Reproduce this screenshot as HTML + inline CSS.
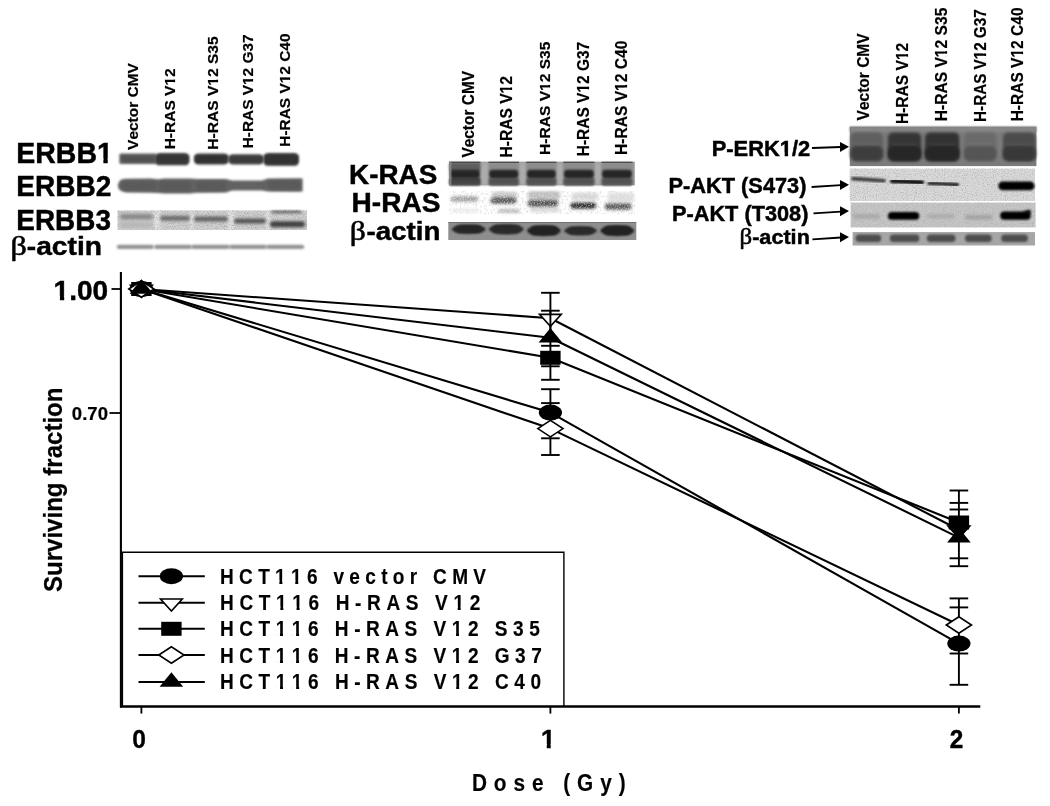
<!DOCTYPE html>
<html><head><meta charset="utf-8"><title>Figure</title>
<style>html,body{margin:0;padding:0;background:#fff;}svg{display:block;will-change:transform;}</style></head>
<body><svg width="1050" height="806" viewBox="0 0 1050 806">
<rect width="1050" height="806" fill="#fff"/>
<defs>
<filter id="b1" x="-20%" y="-80%" width="140%" height="260%"><feGaussianBlur stdDeviation="0.9"/></filter>
<filter id="b2" x="-20%" y="-80%" width="140%" height="260%"><feGaussianBlur stdDeviation="1.4"/></filter>
<filter id="b3" x="-20%" y="-80%" width="140%" height="260%"><feGaussianBlur stdDeviation="2.0"/></filter>
<filter id="sp1" x="0" y="0" width="100%" height="100%">
 <feTurbulence type="fractalNoise" baseFrequency="0.45" numOctaves="2" seed="4"/>
 <feColorMatrix type="matrix" values="0 0 0 0 0  0 0 0 0 0  0 0 0 0 0  3.0 0 0 0 -1.45"/>
 <feGaussianBlur stdDeviation="0.5"/>
</filter>
<filter id="sp2" x="0" y="0" width="100%" height="100%">
 <feTurbulence type="fractalNoise" baseFrequency="0.9" numOctaves="2" seed="9"/>
 <feColorMatrix type="matrix" values="0 0 0 0 0  0 0 0 0 0  0 0 0 0 0  2.0 0 0 0 -0.9"/>
 <feGaussianBlur stdDeviation="0.45"/>
</filter>
<filter id="sp3" x="0" y="0" width="100%" height="100%">
 <feTurbulence type="fractalNoise" baseFrequency="0.7" numOctaves="2" seed="21"/>
 <feColorMatrix type="matrix" values="0 0 0 0 1  0 0 0 0 1  0 0 0 0 1  3.0 0 0 0 -1.4"/>
 <feGaussianBlur stdDeviation="0.4"/>
</filter>
</defs>
<rect x="119.40" y="153.40" width="37.10" height="10.50" rx="1.5" ry="1.5" fill="#5e5e5e" filter="url(#b1)"/>
<rect x="121.40" y="155.90" width="33.10" height="5.50" rx="2" fill="#515151" filter="url(#b1)"/>
<rect x="155.00" y="153.00" width="34.50" height="12.30" rx="5" ry="4" fill="#404040" filter="url(#b1)"/>
<rect x="157.00" y="155.50" width="30.50" height="7.30" rx="2" fill="#343434" filter="url(#b1)"/>
<rect x="193.90" y="153.40" width="34.90" height="11.10" rx="5" ry="4" fill="#3c3c3c" filter="url(#b1)"/>
<rect x="195.90" y="155.90" width="30.90" height="6.10" rx="2" fill="#323232" filter="url(#b1)"/>
<rect x="228.30" y="154.20" width="35.50" height="10.30" rx="5" ry="4" fill="#444444" filter="url(#b1)"/>
<rect x="230.30" y="156.70" width="31.50" height="5.30" rx="2" fill="#3a3a3a" filter="url(#b1)"/>
<rect x="263.40" y="153.00" width="35.60" height="12.80" rx="5" ry="4" fill="#3a3a3a" filter="url(#b1)"/>
<rect x="265.40" y="155.50" width="31.60" height="7.80" rx="2" fill="#303030" filter="url(#b1)"/>
<polygon points="119,182 121,179.6 126,178.7 150,178.6 158,179.2 165,178.4 190,178.5 197,179.0 226,179.0 232,180.4 262,180.6 268,178.6 300,178.2 302.6,178.4 302.6,191.6 300,191.8 268,191.6 262,190.6 232,190.6 226,192.6 197,192.8 190,193.6 165,193.6 158,192.9 150,192.8 126,192.6 121,191 118.5,188.5 117.8,185" fill="#626262" filter="url(#b1)"/>
<rect x="122.00" y="181.50" width="34.00" height="8.50" rx="3" fill="#5a5a5a" filter="url(#b2)"/>
<rect x="159.00" y="181.50" width="32.00" height="9.50" rx="3" fill="#5a5a5a" filter="url(#b2)"/>
<rect x="196.00" y="181.50" width="30.00" height="9.00" rx="3" fill="#5a5a5a" filter="url(#b2)"/>
<rect x="268.00" y="181.00" width="32.00" height="8.50" rx="3" fill="#5a5a5a" filter="url(#b2)"/>
<rect x="117.60" y="210.50" width="189.40" height="19.40" rx="0" fill="#d0d0d0"/>
<rect x="154.00" y="211.00" width="6.00" height="18.50" rx="0" fill="#e4e4e4" filter="url(#b1)"/>
<rect x="190.00" y="211.00" width="3.50" height="18.50" rx="0" fill="#e4e4e4" filter="url(#b1)"/>
<rect x="228.00" y="211.00" width="6.00" height="18.50" rx="0" fill="#e4e4e4" filter="url(#b1)"/>
<rect x="265.50" y="211.00" width="4.50" height="18.50" rx="0" fill="#e4e4e4" filter="url(#b1)"/>
<rect x="117.6" y="210.5" width="189.40" height="19.40" fill="#000" filter="url(#sp2)" opacity="0.25"/>
<rect x="120.00" y="214.05" width="33.00" height="5.50" rx="3" fill="#8a8a8a" filter="url(#b2)"/>
<rect x="160.00" y="215.80" width="30.00" height="5.00" rx="3" fill="#6c6c6c" filter="url(#b2)"/>
<rect x="194.00" y="216.50" width="34.00" height="5.00" rx="3" fill="#626262" filter="url(#b2)"/>
<rect x="234.00" y="218.50" width="32.00" height="5.00" rx="3" fill="#545454" filter="url(#b2)"/>
<rect x="270.00" y="221.20" width="35.00" height="6.00" rx="3" fill="#414141" filter="url(#b2)"/>
<rect x="271.00" y="210.90" width="31.00" height="1.80" rx="3" fill="#2e2e2e" filter="url(#b2)"/>
<rect x="120.00" y="222.00" width="33.00" height="6.00" rx="3" fill="#b8b8b8" filter="url(#b2)"/>
<rect x="116.70" y="244.80" width="37.30" height="4.20" rx="2.5" fill="#939393" filter="url(#b1)"/>
<rect x="154.00" y="244.80" width="38.00" height="4.20" rx="2.5" fill="#939393" filter="url(#b1)"/>
<rect x="191.00" y="244.80" width="39.00" height="4.20" rx="2.5" fill="#939393" filter="url(#b1)"/>
<rect x="229.00" y="244.80" width="38.00" height="4.20" rx="2.5" fill="#939393" filter="url(#b1)"/>
<rect x="266.00" y="244.80" width="38.30" height="4.20" rx="2.5" fill="#939393" filter="url(#b1)"/>
<rect x="449.10" y="161.70" width="185.70" height="23.60" rx="0" fill="#9c9c9c"/>
<rect x="479.40" y="163.00" width="10.20" height="22.00" rx="3" fill="#acacac" filter="url(#b2)"/>
<rect x="518.40" y="163.00" width="8.30" height="22.00" rx="3" fill="#acacac" filter="url(#b2)"/>
<rect x="555.50" y="163.00" width="8.30" height="22.00" rx="3" fill="#acacac" filter="url(#b2)"/>
<rect x="593.60" y="163.00" width="8.30" height="22.00" rx="3" fill="#acacac" filter="url(#b2)"/>
<rect x="449.10" y="162.50" width="31.40" height="9.50" rx="2" fill="#5e5e5e" filter="url(#b1)"/>
<rect x="449.10" y="177.50" width="31.40" height="7.80" rx="2" fill="#3c3c3c" filter="url(#b1)"/>
<rect x="449.60" y="169.80" width="30.40" height="8.60" rx="4" fill="#282828" filter="url(#b1)"/>
<rect x="450.10" y="180.20" width="29.40" height="2.20" rx="1.5" fill="#484848" filter="url(#b1)"/>
<rect x="450.10" y="183.60" width="29.40" height="1.70" rx="1" fill="#505050" filter="url(#b1)"/>
<rect x="449.10" y="161.70" width="31.40" height="1.30" rx="0" fill="#3a3a3a" opacity="0.8"/>
<rect x="488.50" y="162.50" width="30.50" height="9.50" rx="2" fill="#8c8c8c" filter="url(#b1)"/>
<rect x="488.50" y="177.50" width="30.50" height="7.80" rx="2" fill="#5e5e5e" filter="url(#b1)"/>
<rect x="489.00" y="169.80" width="29.50" height="8.60" rx="4" fill="#282828" filter="url(#b1)"/>
<rect x="489.50" y="180.20" width="28.50" height="2.20" rx="1.5" fill="#484848" filter="url(#b1)"/>
<rect x="489.50" y="183.60" width="28.50" height="1.70" rx="1" fill="#505050" filter="url(#b1)"/>
<rect x="488.50" y="161.70" width="30.50" height="1.30" rx="0" fill="#3a3a3a" opacity="0.8"/>
<rect x="526.20" y="162.50" width="30.30" height="9.50" rx="2" fill="#8c8c8c" filter="url(#b1)"/>
<rect x="526.20" y="177.50" width="30.30" height="7.80" rx="2" fill="#5e5e5e" filter="url(#b1)"/>
<rect x="526.70" y="169.80" width="29.30" height="8.60" rx="4" fill="#282828" filter="url(#b1)"/>
<rect x="527.20" y="180.20" width="28.30" height="2.20" rx="1.5" fill="#484848" filter="url(#b1)"/>
<rect x="527.20" y="183.60" width="28.30" height="1.70" rx="1" fill="#505050" filter="url(#b1)"/>
<rect x="526.20" y="161.70" width="30.30" height="1.30" rx="0" fill="#3a3a3a" opacity="0.8"/>
<rect x="563.20" y="162.50" width="31.30" height="9.50" rx="2" fill="#8c8c8c" filter="url(#b1)"/>
<rect x="563.20" y="177.50" width="31.30" height="7.80" rx="2" fill="#5e5e5e" filter="url(#b1)"/>
<rect x="563.70" y="169.80" width="30.30" height="8.60" rx="4" fill="#282828" filter="url(#b1)"/>
<rect x="564.20" y="180.20" width="29.30" height="2.20" rx="1.5" fill="#484848" filter="url(#b1)"/>
<rect x="564.20" y="183.60" width="29.30" height="1.70" rx="1" fill="#505050" filter="url(#b1)"/>
<rect x="563.20" y="161.70" width="31.30" height="1.30" rx="0" fill="#3a3a3a" opacity="0.8"/>
<rect x="601.40" y="162.50" width="31.20" height="9.50" rx="2" fill="#8c8c8c" filter="url(#b1)"/>
<rect x="601.40" y="177.50" width="31.20" height="7.80" rx="2" fill="#5e5e5e" filter="url(#b1)"/>
<rect x="601.90" y="169.80" width="30.20" height="8.60" rx="4" fill="#282828" filter="url(#b1)"/>
<rect x="602.40" y="180.20" width="29.20" height="2.20" rx="1.5" fill="#484848" filter="url(#b1)"/>
<rect x="602.40" y="183.60" width="29.20" height="1.70" rx="1" fill="#505050" filter="url(#b1)"/>
<rect x="601.40" y="161.70" width="31.20" height="1.30" rx="0" fill="#3a3a3a" opacity="0.8"/>
<rect x="449.10" y="161.70" width="2.40" height="23.60" rx="0" fill="#8a8a8a" opacity="0.8"/>
<rect x="449" y="191" width="185.80" height="22.70" fill="#000" filter="url(#sp1)" opacity="0.14"/>
<rect x="492.00" y="192.00" width="25.00" height="6.00" rx="2" fill="#c8c8c8" filter="url(#b2)"/>
<rect x="528.00" y="191.50" width="32.00" height="8.00" rx="2" fill="#bcbcbc" filter="url(#b2)"/>
<rect x="572.00" y="193.00" width="26.00" height="7.00" rx="2" fill="#d4d4d4" filter="url(#b2)"/>
<rect x="608.00" y="193.00" width="26.00" height="9.00" rx="2" fill="#dcdcdc" filter="url(#b2)"/>
<rect x="498.00" y="209.00" width="22.00" height="3.50" rx="2" fill="#b0b0b0" filter="url(#b2)"/>
<rect x="530.00" y="208.00" width="30.00" height="4.00" rx="2" fill="#d4d4d4" filter="url(#b2)"/>
<rect x="451.00" y="209.00" width="28.00" height="3.00" rx="2" fill="#e6e6e6" filter="url(#b2)"/>
<rect x="450.60" y="196.30" width="27.80" height="5.50" rx="3.5" fill="#a0a0a0" filter="url(#b2)"/>
<rect x="490.50" y="197.30" width="26.00" height="6.40" rx="3.5" fill="#595959" filter="url(#b2)"/>
<rect x="527.60" y="199.80" width="30.70" height="6.90" rx="3.5" fill="#555555" filter="url(#b2)"/>
<rect x="570.30" y="202.40" width="26.00" height="6.30" rx="3.5" fill="#2e2e2e" filter="url(#b2)"/>
<rect x="604.70" y="203.30" width="26.90" height="6.50" rx="3.5" fill="#5a5a5a" filter="url(#b2)"/>
<rect x="449" y="194" width="185" height="18" fill="#fff" filter="url(#sp3)" opacity="0.55"/>
<rect x="448.30" y="222.00" width="188.00" height="18.00" rx="0" fill="#8e8e8e"/>
<rect x="448.30" y="222.00" width="188.00" height="1.00" rx="0" fill="#6a6a6a" opacity="0.8"/>
<ellipse cx="468.70" cy="229.20" rx="16.80" ry="4.40" fill="#282828" filter="url(#b1)"/>
<rect x="455.40" y="225.30" width="26.60" height="7.80" rx="4" fill="#282828" filter="url(#b1)"/>
<ellipse cx="506.25" cy="229.20" rx="17.25" ry="4.80" fill="#2a2a2a" filter="url(#b1)"/>
<rect x="492.50" y="224.90" width="27.50" height="8.60" rx="4" fill="#2a2a2a" filter="url(#b1)"/>
<ellipse cx="543.90" cy="230.70" rx="16.80" ry="5.10" fill="#202020" filter="url(#b1)"/>
<rect x="530.60" y="226.10" width="26.60" height="9.20" rx="4" fill="#202020" filter="url(#b1)"/>
<ellipse cx="580.55" cy="230.75" rx="16.35" ry="4.15" fill="#2c2c2c" filter="url(#b1)"/>
<rect x="567.70" y="227.10" width="25.70" height="7.30" rx="4" fill="#2c2c2c" filter="url(#b1)"/>
<ellipse cx="617.30" cy="230.70" rx="16.80" ry="5.10" fill="#202020" filter="url(#b1)"/>
<rect x="604.00" y="226.10" width="26.60" height="9.20" rx="4" fill="#202020" filter="url(#b1)"/>
<rect x="849.80" y="126.70" width="186.60" height="39.40" rx="0" fill="#7b7b7b"/>
<rect x="849.80" y="126.70" width="186.60" height="5.30" rx="0" fill="#878787" filter="url(#b1)"/>
<rect x="850.70" y="132.50" width="32.30" height="28.50" rx="5" fill="#5e5e5e" filter="url(#b2)"/>
<rect x="850.70" y="146.00" width="32.30" height="15.00" rx="6" fill="#3c3c3c" filter="url(#b2)"/>
<rect x="853.70" y="143.20" width="26.30" height="1.80" rx="1" fill="#ffffff" filter="url(#b1)" opacity="0.07"/>
<rect x="887.90" y="132.50" width="33.30" height="28.50" rx="5" fill="#363636" filter="url(#b2)"/>
<rect x="887.90" y="146.00" width="33.30" height="15.00" rx="6" fill="#272727" filter="url(#b2)"/>
<rect x="890.90" y="143.20" width="27.30" height="1.80" rx="1" fill="#ffffff" filter="url(#b1)" opacity="0.07"/>
<rect x="925.00" y="132.50" width="34.30" height="28.50" rx="5" fill="#323232" filter="url(#b2)"/>
<rect x="925.00" y="146.00" width="34.30" height="15.00" rx="6" fill="#262626" filter="url(#b2)"/>
<rect x="928.00" y="143.20" width="28.30" height="1.80" rx="1" fill="#ffffff" filter="url(#b1)" opacity="0.07"/>
<rect x="964.00" y="132.50" width="32.40" height="28.50" rx="5" fill="#6a6a6a" filter="url(#b2)"/>
<rect x="964.00" y="146.00" width="32.40" height="15.00" rx="6" fill="#545454" filter="url(#b2)"/>
<rect x="967.00" y="143.20" width="26.40" height="1.80" rx="1" fill="#ffffff" filter="url(#b1)" opacity="0.07"/>
<rect x="1003.00" y="132.50" width="32.50" height="28.50" rx="5" fill="#4c4c4c" filter="url(#b2)"/>
<rect x="1003.00" y="146.00" width="32.50" height="15.00" rx="6" fill="#383838" filter="url(#b2)"/>
<rect x="1006.00" y="143.20" width="26.50" height="1.80" rx="1" fill="#ffffff" filter="url(#b1)" opacity="0.07"/>
<rect x="849.80" y="168.60" width="185.20" height="32.40" rx="0" fill="#dadada"/>
<rect x="849.8" y="168.6" width="185.20" height="32.40" fill="#000" filter="url(#sp2)" opacity="0.22"/>
<polyline points="853,178.6 868,179.6 884,180.8" fill="none" stroke="#3a3a3a" stroke-width="3.6" stroke-linecap="round" filter="url(#b1)"/>
<polyline points="892,181.2 907,181.6 922,182.4" fill="none" stroke="#111" stroke-width="4.2" stroke-linecap="round" filter="url(#b1)"/>
<polyline points="929,183.4 943,183.9 957.4,184.8" fill="none" stroke="#1e1e1e" stroke-width="3.4" stroke-linecap="round" filter="url(#b1)"/>
<rect x="998.30" y="181.60" width="36.20" height="8.70" rx="4.5" fill="#000" filter="url(#b1)"/>
<rect x="850.70" y="202.60" width="184.80" height="24.80" rx="0" fill="#c6c6c6"/>
<rect x="850.7" y="202.6" width="184.80" height="24.80" fill="#000" filter="url(#sp2)" opacity="0.15"/>
<rect x="852.60" y="214.00" width="27.60" height="4.80" rx="3" fill="#a9a9a9" filter="url(#b2)"/>
<rect x="926.90" y="214.00" width="27.60" height="4.50" rx="3" fill="#acacac" filter="url(#b2)"/>
<rect x="965.00" y="215.00" width="27.60" height="4.50" rx="3" fill="#a2a2a2" filter="url(#b2)"/>
<rect x="887.90" y="212.10" width="31.40" height="7.70" rx="4" fill="#000" filter="url(#b1)"/>
<rect x="1000.20" y="211.60" width="30.50" height="8.20" rx="4" fill="#000" filter="url(#b1)"/>
<path d="M1022,212 L1030,209.5 L1031,214 Z" fill="#000" filter="url(#b1)"/>
<rect x="852.60" y="232.10" width="182.40" height="13.40" rx="0" fill="#a6a6a6"/>
<rect x="855.50" y="234.60" width="25.70" height="7.40" rx="3.5" fill="#4e4e4e" filter="url(#b1)"/>
<rect x="889.80" y="234.60" width="29.50" height="7.40" rx="3.5" fill="#4e4e4e" filter="url(#b1)"/>
<rect x="926.90" y="234.60" width="28.60" height="7.40" rx="3.5" fill="#4e4e4e" filter="url(#b1)"/>
<rect x="965.00" y="234.60" width="26.70" height="7.40" rx="3.5" fill="#4e4e4e" filter="url(#b1)"/>
<rect x="1001.20" y="234.60" width="26.70" height="7.40" rx="3.5" fill="#4e4e4e" filter="url(#b1)"/>
<line x1="812" y1="148" x2="841" y2="146.98" stroke="#000" stroke-width="1.8"/>
<polygon points="849,146.7 840,141.89999999999998 840,151.89999999999998" fill="#000"/>
<line x1="811.6" y1="187" x2="841" y2="185.19" stroke="#000" stroke-width="1.8"/>
<polygon points="849,184.7 840,179.89999999999998 840,189.89999999999998" fill="#000"/>
<line x1="813.5" y1="213.4" x2="841" y2="211.54" stroke="#000" stroke-width="1.8"/>
<polygon points="849,211 840,206.2 840,216.2" fill="#000"/>
<line x1="812.4" y1="239.4" x2="841" y2="237.52" stroke="#000" stroke-width="1.8"/>
<polygon points="849,237 840,232.2 840,242.2" fill="#000"/>
<line x1="120.9" y1="272" x2="120.9" y2="707.5" stroke="#000" stroke-width="2.1"/>
<line x1="122.5" y1="552.3" x2="122.5" y2="707" stroke="#000" stroke-width="1.2"/>
<line x1="120" y1="706.5" x2="980.3" y2="706.5" stroke="#000" stroke-width="2.3"/>
<line x1="111.5" y1="289" x2="121" y2="289" stroke="#000" stroke-width="1.8"/>
<line x1="109.5" y1="413" x2="121" y2="413" stroke="#000" stroke-width="1.8"/>
<line x1="141.4" y1="707" x2="141.4" y2="713.6" stroke="#000" stroke-width="1.8"/>
<line x1="550.4" y1="707" x2="550.4" y2="713.6" stroke="#000" stroke-width="1.8"/>
<line x1="958.9" y1="707" x2="958.9" y2="713.6" stroke="#000" stroke-width="1.8"/>
<polyline points="121.2,552.3 563.9,552.3 563.9,706.5" fill="none" stroke="#000" stroke-width="1.4"/>
<line x1="550.4" y1="292.8" x2="550.4" y2="379.8" stroke="#000" stroke-width="1.9"/><line x1="541.1" y1="292.8" x2="559.6999999999999" y2="292.8" stroke="#000" stroke-width="1.9"/><line x1="541.1" y1="310.7" x2="559.6999999999999" y2="310.7" stroke="#000" stroke-width="1.9"/><line x1="541.1" y1="345.8" x2="559.6999999999999" y2="345.8" stroke="#000" stroke-width="1.9"/><line x1="541.1" y1="366.3" x2="559.6999999999999" y2="366.3" stroke="#000" stroke-width="1.9"/><line x1="541.1" y1="379.8" x2="559.6999999999999" y2="379.8" stroke="#000" stroke-width="1.9"/>
<line x1="550.4" y1="389.2" x2="550.4" y2="455.0" stroke="#000" stroke-width="1.9"/><line x1="541.1" y1="389.2" x2="559.6999999999999" y2="389.2" stroke="#000" stroke-width="1.9"/><line x1="541.1" y1="403.1" x2="559.6999999999999" y2="403.1" stroke="#000" stroke-width="1.9"/><line x1="541.1" y1="438.3" x2="559.6999999999999" y2="438.3" stroke="#000" stroke-width="1.9"/><line x1="541.1" y1="455.0" x2="559.6999999999999" y2="455.0" stroke="#000" stroke-width="1.9"/>
<line x1="958.9" y1="490.5" x2="958.9" y2="566.2" stroke="#000" stroke-width="1.9"/><line x1="949.6" y1="490.5" x2="968.1999999999999" y2="490.5" stroke="#000" stroke-width="1.9"/><line x1="949.6" y1="502.9" x2="968.1999999999999" y2="502.9" stroke="#000" stroke-width="1.9"/><line x1="949.6" y1="509.5" x2="968.1999999999999" y2="509.5" stroke="#000" stroke-width="1.9"/><line x1="949.6" y1="558.3" x2="968.1999999999999" y2="558.3" stroke="#000" stroke-width="1.9"/><line x1="949.6" y1="566.2" x2="968.1999999999999" y2="566.2" stroke="#000" stroke-width="1.9"/>
<line x1="958.9" y1="598.4" x2="958.9" y2="684.8" stroke="#000" stroke-width="1.9"/><line x1="949.6" y1="598.4" x2="968.1999999999999" y2="598.4" stroke="#000" stroke-width="1.9"/><line x1="949.6" y1="607.4" x2="968.1999999999999" y2="607.4" stroke="#000" stroke-width="1.9"/><line x1="949.6" y1="653.5" x2="968.1999999999999" y2="653.5" stroke="#000" stroke-width="1.9"/><line x1="949.6" y1="684.8" x2="968.1999999999999" y2="684.8" stroke="#000" stroke-width="1.9"/>
<polyline points="141.4,289.0 550.4,412.6 958.9,643.6" fill="none" stroke="#000" stroke-width="2.1" stroke-linejoin="round"/>
<polyline points="141.4,289.0 550.4,318.2 958.9,529.8" fill="none" stroke="#000" stroke-width="2.1" stroke-linejoin="round"/>
<polyline points="141.4,289.0 550.4,357.8 958.9,522.5" fill="none" stroke="#000" stroke-width="2.1" stroke-linejoin="round"/>
<polyline points="141.4,289.0 550.4,428.6 958.9,625.0" fill="none" stroke="#000" stroke-width="2.1" stroke-linejoin="round"/>
<polyline points="141.4,289.0 550.4,337.8 958.9,537.6" fill="none" stroke="#000" stroke-width="2.1" stroke-linejoin="round"/>
<ellipse cx="141.4" cy="289.0" rx="11.6" ry="8.0" fill="#000"/>
<ellipse cx="550.4" cy="412.6" rx="11.6" ry="8.0" fill="#000"/>
<ellipse cx="958.9" cy="643.6" rx="11.6" ry="8.0" fill="#000"/>
<rect x="131.20000000000002" y="282.0" width="20.4" height="14.0" fill="#000"/>
<rect x="540.1999999999999" y="350.8" width="20.4" height="14.0" fill="#000"/>
<rect x="948.6999999999999" y="515.5" width="20.4" height="14.0" fill="#000"/>
<polygon points="130.5,285.2 152.3,285.2 141.4,297.2" fill="#fff" stroke="#000" stroke-width="1.6"/>
<polygon points="539.5,314.4 561.3,314.4 550.4,326.4" fill="#fff" stroke="#000" stroke-width="1.6"/>
<polygon points="948.0,526.0 969.8,526.0 958.9,538.0" fill="#000" stroke="#000" stroke-width="1.6"/>
<polygon points="128.8,289.0 141.4,280.8 154.0,289.0 141.4,297.2" fill="#fff" stroke="#000" stroke-width="1.6"/>
<polygon points="537.8,428.6 550.4,420.40000000000003 563.0,428.6 550.4,436.8" fill="#fff" stroke="#000" stroke-width="1.6"/>
<polygon points="946.3,625.0 958.9,616.8 971.5,625.0 958.9,633.2" fill="#fff" stroke="#000" stroke-width="1.6"/>
<polygon points="129.6,293.8 153.20000000000002,293.8 141.4,279.3" fill="#000"/>
<polygon points="538.6,342.6 562.1999999999999,342.6 550.4,328.1" fill="#000"/>
<polygon points="947.1,542.4 970.6999999999999,542.4 958.9,527.9" fill="#000"/>
<line x1="550.4" y1="310.7" x2="550.4" y2="330" stroke="#000" stroke-width="1.9"/>
<line x1="138.5" y1="576.2" x2="204.8" y2="576.2" stroke="#000" stroke-width="2"/>
<ellipse cx="171.4" cy="576.2" rx="11.6" ry="8.0" fill="#000"/>
<line x1="138.5" y1="602.8" x2="204.8" y2="602.8" stroke="#000" stroke-width="2"/>
<polygon points="160.5,599.0 182.3,599.0 171.4,611.0" fill="#fff" stroke="#000" stroke-width="1.6"/>
<line x1="138.5" y1="628.8" x2="204.8" y2="628.8" stroke="#000" stroke-width="2"/>
<rect x="161.20000000000002" y="621.8" width="20.4" height="14.0" fill="#000"/>
<line x1="138.5" y1="655.0" x2="204.8" y2="655.0" stroke="#000" stroke-width="2"/>
<polygon points="158.8,655.0 171.4,646.8 184.0,655.0 171.4,663.2" fill="#fff" stroke="#000" stroke-width="1.6"/>
<line x1="138.5" y1="681.9" x2="204.8" y2="681.9" stroke="#000" stroke-width="2"/>
<polygon points="159.6,686.6999999999999 183.20000000000002,686.6999999999999 171.4,672.1999999999999" fill="#000"/>
<g transform="translate(16.30,163.10) scale(0.9891,1)"><text x="0.00 19.20 39.98 60.76 81.55" y="0" font-family='"Liberation Sans", sans-serif' font-weight="bold" font-size="28.78" fill="#000" stroke="#000" stroke-width="0.45" style="white-space:pre;font-kerning:none">ERBB1</text><rect x="82.39" y="-4.64" width="5.65" height="6.14" fill="#fff"/><rect x="92.44" y="-4.64" width="7.12" height="6.14" fill="#fff"/></g>
<g transform="translate(16.33,196.30) scale(0.9689,1)"><text x="0.00 19.29 40.18 61.07 81.96" y="0" font-family='"Liberation Sans", sans-serif' font-weight="bold" font-size="28.92" fill="#000" stroke="#000" stroke-width="0.45" style="white-space:pre;font-kerning:none">ERBB2</text></g>
<g transform="translate(16.33,229.90) scale(0.9657,1)"><text x="0.00 19.29 40.18 61.07 81.96" y="0" font-family='"Liberation Sans", sans-serif' font-weight="bold" font-size="28.92" fill="#000" stroke="#000" stroke-width="0.45" style="white-space:pre;font-kerning:none">ERBB3</text></g>
<g transform="translate(10.53,255.20) scale(1.1681,1)"><text x="0.00" y="0" font-family='"Liberation Serif", serif' font-weight="normal" font-size="27.48" fill="#000" stroke="#000" stroke-width="0.55" style="white-space:pre;font-kerning:none">β</text></g>
<g transform="translate(26.80,255.20) scale(1.0781,1)"><text x="0.00 8.70 23.24 37.78 46.48 53.74" y="0" font-family='"Liberation Sans", sans-serif' font-weight="bold" font-size="26.14" fill="#000" stroke="#000" stroke-width="0.45" style="white-space:pre;font-kerning:none">-actin</text></g>
<g transform="translate(349.04,183.80) scale(0.9833,1)"><text x="0.00 20.47 29.91 50.38 70.84" y="0" font-family='"Liberation Sans", sans-serif' font-weight="bold" font-size="28.34" fill="#000" stroke="#000" stroke-width="0.45" style="white-space:pre;font-kerning:none">K-RAS</text></g>
<g transform="translate(351.52,212.00) scale(1.0057,1)"><text x="0.00 20.15 29.45 49.60 69.75" y="0" font-family='"Liberation Sans", sans-serif' font-weight="bold" font-size="27.91" fill="#000" stroke="#000" stroke-width="0.45" style="white-space:pre;font-kerning:none">H-RAS</text></g>
<g transform="translate(349.76,240.30) scale(1.1455,1)"><text x="0.00" y="0" font-family='"Liberation Serif", serif' font-weight="normal" font-size="27.59" fill="#000" stroke="#000" stroke-width="0.55" style="white-space:pre;font-kerning:none">β</text></g>
<g transform="translate(366.42,240.30) scale(1.0617,1)"><text x="0.00 8.70 23.24 37.78 46.48 53.74" y="0" font-family='"Liberation Sans", sans-serif' font-weight="bold" font-size="26.14" fill="#000" stroke="#000" stroke-width="0.45" style="white-space:pre;font-kerning:none">-actin</text></g>
<g transform="translate(711.74,156.00) scale(1.0235,1)"><text x="0.00 14.25 21.37 35.62 51.05 66.48 78.36 84.30" y="0" font-family='"Liberation Sans", sans-serif' font-weight="bold" font-size="21.37" fill="#000" stroke="#000" stroke-width="0.45" style="white-space:pre;font-kerning:none">P-ERK1/2</text><rect x="67.10" y="-3.44" width="4.14" height="4.94" fill="#fff"/><rect x="74.62" y="-3.44" width="3.79" height="4.94" fill="#fff"/></g>
<g transform="translate(668.54,192.90) scale(1.0055,1)"><text x="0.00 14.45 21.66 37.30 52.94 66.17 72.18 79.39 93.84 105.88 117.93 129.97" y="0" font-family='"Liberation Sans", sans-serif' font-weight="bold" font-size="21.66" fill="#000" stroke="#000" stroke-width="0.45" style="white-space:pre;font-kerning:none">P-AKT (S473)</text></g>
<g transform="translate(672.05,220.90) scale(1.0233,1)"><text x="0.00 14.15 21.22 36.55 51.87 64.83 70.73 77.80 90.76 102.56 114.36 126.17" y="0" font-family='"Liberation Sans", sans-serif' font-weight="bold" font-size="21.22" fill="#000" stroke="#000" stroke-width="0.45" style="white-space:pre;font-kerning:none">P-AKT (T308)</text></g>
<g transform="translate(739.40,243.60) scale(1.0372,1)"><text x="0.00" y="0" font-family='"Liberation Serif", serif' font-weight="normal" font-size="23.99" fill="#000" stroke="#000" stroke-width="0.55" style="white-space:pre;font-kerning:none">β</text></g>
<g transform="translate(752.16,243.60) scale(1.0382,1)"><text x="0.00 6.94 18.52 30.11 37.05 42.84" y="0" font-family='"Liberation Sans", sans-serif' font-weight="bold" font-size="20.83" fill="#000" stroke="#000" stroke-width="0.45" style="white-space:pre;font-kerning:none">-actin</text></g>
<g transform="translate(138.10,149.91) rotate(-90) scale(1.0233,1)"><text x="0.00 10.08 18.49 26.90 31.93 41.16 47.05 51.25 62.16 74.75" y="0" font-family='"Liberation Sans", sans-serif' font-weight="bold" font-size="15.12" fill="#000" stroke="#000" stroke-width="0.2" style="white-space:pre;font-kerning:none">Vector CMV</text></g>
<g transform="translate(175.20,149.34) rotate(-90) scale(1.0571,1)"><text x="0.00 10.60 15.49 26.09 36.69 46.49 50.56 60.36 68.52" y="0" font-family='"Liberation Sans", sans-serif' font-weight="bold" font-size="14.68" fill="#000" stroke="#000" stroke-width="0.2" style="white-space:pre;font-kerning:none">H-RAS V12</text><rect x="60.79" y="-2.37" width="2.77" height="3.87" fill="#fff"/><rect x="66.02" y="-2.37" width="2.90" height="3.87" fill="#fff"/></g>
<g transform="translate(217.90,149.64) rotate(-90) scale(1.0292,1)"><text x="0.00 10.92 15.95 26.87 37.78 47.87 52.07 62.15 70.55 78.96 83.16 93.24 101.65" y="0" font-family='"Liberation Sans", sans-serif' font-weight="bold" font-size="15.12" fill="#000" stroke="#000" stroke-width="0.2" style="white-space:pre;font-kerning:none">H-RAS V12 S35</text><rect x="62.59" y="-2.44" width="2.86" height="3.94" fill="#fff"/><rect x="67.98" y="-2.44" width="2.99" height="3.94" fill="#fff"/></g>
<g transform="translate(252.90,148.33) rotate(-90) scale(1.0395,1)"><text x="0.00 10.71 15.64 26.35 37.06 46.95 51.06 60.95 69.20 77.44 81.56 93.09 101.34" y="0" font-family='"Liberation Sans", sans-serif' font-weight="bold" font-size="14.83" fill="#000" stroke="#000" stroke-width="0.2" style="white-space:pre;font-kerning:none">H-RAS V12 G37</text><rect x="61.39" y="-2.39" width="2.80" height="3.89" fill="#fff"/><rect x="66.67" y="-2.39" width="2.93" height="3.89" fill="#fff"/></g>
<g transform="translate(290.30,146.73) rotate(-90) scale(1.0623,1)"><text x="0.00 10.50 15.34 25.83 36.33 46.02 50.06 59.76 67.84 75.92 79.96 90.46 98.54" y="0" font-family='"Liberation Sans", sans-serif' font-weight="bold" font-size="14.53" fill="#000" stroke="#000" stroke-width="0.2" style="white-space:pre;font-kerning:none">H-RAS V12 C40</text><rect x="60.18" y="-2.34" width="2.74" height="3.84" fill="#fff"/><rect x="65.37" y="-2.34" width="2.87" height="3.84" fill="#fff"/></g>
<g transform="translate(474.40,157.61) rotate(-90) scale(0.9752,1)"><text x="0.00 10.57 19.38 28.19 33.47 43.14 49.31 53.71 65.15 78.35" y="0" font-family='"Liberation Sans", sans-serif' font-weight="bold" font-size="15.84" fill="#000" stroke="#000" stroke-width="0.2" style="white-space:pre;font-kerning:none">Vector CMV</text></g>
<g transform="translate(511.50,157.54) rotate(-90) scale(0.9844,1)"><text x="0.00 11.44 16.72 28.16 39.60 50.17 54.57 65.14 73.95" y="0" font-family='"Liberation Sans", sans-serif' font-weight="bold" font-size="15.84" fill="#000" stroke="#000" stroke-width="0.2" style="white-space:pre;font-kerning:none">H-RAS V12</text><rect x="65.60" y="-2.55" width="3.01" height="4.05" fill="#fff"/><rect x="71.23" y="-2.55" width="3.15" height="4.05" fill="#fff"/></g>
<g transform="translate(550.40,154.94) rotate(-90) scale(1.0013,1)"><text x="0.00 11.23 16.41 27.64 38.87 49.25 53.57 63.94 72.59 81.24 85.56 95.93 104.58" y="0" font-family='"Liberation Sans", sans-serif' font-weight="bold" font-size="15.55" fill="#000" stroke="#000" stroke-width="0.2" style="white-space:pre;font-kerning:none">H-RAS V12 S35</text><rect x="64.40" y="-2.51" width="2.95" height="4.01" fill="#fff"/><rect x="69.93" y="-2.51" width="3.09" height="4.01" fill="#fff"/></g>
<g transform="translate(589.30,156.24) rotate(-90) scale(0.9770,1)"><text x="0.00 11.44 16.72 28.16 39.60 50.17 54.57 65.14 73.95 82.76 87.16 99.48 108.29" y="0" font-family='"Liberation Sans", sans-serif' font-weight="bold" font-size="15.84" fill="#000" stroke="#000" stroke-width="0.2" style="white-space:pre;font-kerning:none">H-RAS V12 G37</text><rect x="65.60" y="-2.55" width="3.01" height="4.05" fill="#fff"/><rect x="71.23" y="-2.55" width="3.15" height="4.05" fill="#fff"/></g>
<g transform="translate(627.30,154.94) rotate(-90) scale(0.9833,1)"><text x="0.00 11.44 16.72 28.16 39.60 50.17 54.57 65.14 73.95 82.76 87.16 98.60 107.41" y="0" font-family='"Liberation Sans", sans-serif' font-weight="bold" font-size="15.84" fill="#000" stroke="#000" stroke-width="0.2" style="white-space:pre;font-kerning:none">H-RAS V12 C40</text><rect x="65.60" y="-2.55" width="3.01" height="4.05" fill="#fff"/><rect x="71.23" y="-2.55" width="3.15" height="4.05" fill="#fff"/></g>
<g transform="translate(869.00,120.41) rotate(-90) scale(0.9697,1)"><text x="0.00 10.66 19.56 28.45 33.77 43.54 49.76 54.20 65.75 79.07" y="0" font-family='"Liberation Sans", sans-serif' font-weight="bold" font-size="15.99" fill="#000" stroke="#000" stroke-width="0.2" style="white-space:pre;font-kerning:none">Vector CMV</text></g>
<g transform="translate(907.50,124.04) rotate(-90) scale(0.9307,1)"><text x="0.00 12.07 17.64 29.71 41.78 52.93 57.57 68.72 78.02" y="0" font-family='"Liberation Sans", sans-serif' font-weight="bold" font-size="16.72" fill="#000" stroke="#000" stroke-width="0.2" style="white-space:pre;font-kerning:none">H-RAS V12</text><rect x="69.21" y="-2.69" width="3.19" height="4.19" fill="#fff"/><rect x="75.14" y="-2.69" width="3.33" height="4.19" fill="#fff"/></g>
<g transform="translate(946.80,121.34) rotate(-90) scale(0.9506,1)"><text x="0.00 11.86 17.33 29.19 41.05 52.01 56.57 67.53 76.66 85.80 90.36 101.31 110.45" y="0" font-family='"Liberation Sans", sans-serif' font-weight="bold" font-size="16.42" fill="#000" stroke="#000" stroke-width="0.2" style="white-space:pre;font-kerning:none">H-RAS V12 S35</text><rect x="68.01" y="-2.65" width="3.13" height="4.15" fill="#fff"/><rect x="73.84" y="-2.65" width="3.27" height="4.15" fill="#fff"/></g>
<g transform="translate(985.70,121.92) rotate(-90) scale(0.9614,1)"><text x="0.00 11.44 16.72 28.16 39.60 50.17 54.57 65.14 73.95 82.76 87.16 99.48 108.29" y="0" font-family='"Liberation Sans", sans-serif' font-weight="bold" font-size="15.84" fill="#000" stroke="#000" stroke-width="0.2" style="white-space:pre;font-kerning:none">H-RAS V12 G37</text><rect x="65.60" y="-2.55" width="3.01" height="4.05" fill="#fff"/><rect x="71.23" y="-2.55" width="3.15" height="4.05" fill="#fff"/></g>
<g transform="translate(1023.40,121.34) rotate(-90) scale(0.9207,1)"><text x="0.00 12.18 17.79 29.97 42.14 53.39 58.07 69.32 78.70 88.07 92.76 104.93 114.31" y="0" font-family='"Liberation Sans", sans-serif' font-weight="bold" font-size="16.86" fill="#000" stroke="#000" stroke-width="0.2" style="white-space:pre;font-kerning:none">H-RAS V12 C40</text><rect x="69.81" y="-2.72" width="3.22" height="4.22" fill="#fff"/><rect x="75.79" y="-2.72" width="3.36" height="4.22" fill="#fff"/></g>
<g transform="translate(53.58,300.40) scale(1.0232,1)"><text x="0.00 15.24 22.85 38.09" y="0" font-family='"Liberation Sans", sans-serif' font-weight="bold" font-size="27.40" fill="#000" stroke="#000" stroke-width="0.45" style="white-space:pre;font-kerning:none">1.00</text><rect x="0.80" y="-4.42" width="5.37" height="5.92" fill="#fff"/><rect x="10.38" y="-4.42" width="6.52" height="5.92" fill="#fff"/></g>
<g transform="translate(71.87,419.70) scale(1.0258,1)"><text x="0.00 10.05 15.08 25.13" y="0" font-family='"Liberation Sans", sans-serif' font-weight="bold" font-size="18.08" fill="#000" stroke="#000" stroke-width="0.2" style="white-space:pre;font-kerning:none">0.70</text></g>
<g transform="translate(62.40,592.09) rotate(-90) scale(0.9437,1)"><text x="0.00 17.01 32.59 42.51 56.69 63.78 77.96 85.05 100.62 116.20 123.29 131.78 141.70 155.88 170.07 178.56 185.64 201.22" y="0" font-family='"Liberation Sans", sans-serif' font-weight="bold" font-size="25.50" fill="#000" stroke="#000" stroke-width="0.25" style="white-space:pre;font-kerning:none">Surviving fraction</text></g>
<g transform="translate(132.23,748.00) scale(0.9896,1)"><text x="0.00" y="0" font-family='"Liberation Sans", sans-serif' font-weight="bold" font-size="24.86" fill="#000" stroke="#000" stroke-width="0.3" style="white-space:pre;font-kerning:none">0</text></g>
<g transform="translate(540.94,748.00) scale(0.9975,1)"><text x="0.00" y="0" font-family='"Liberation Sans", sans-serif' font-weight="bold" font-size="25.87" fill="#000" stroke="#000" stroke-width="0.45" style="white-space:pre;font-kerning:none">1</text><rect x="0.76" y="-4.17" width="5.06" height="5.67" fill="#fff"/><rect x="9.81" y="-4.17" width="6.38" height="5.67" fill="#fff"/></g>
<g transform="translate(949.66,748.00) scale(0.9530,1)"><text x="0.00" y="0" font-family='"Liberation Sans", sans-serif' font-weight="bold" font-size="25.50" fill="#000" stroke="#000" stroke-width="0.45" style="white-space:pre;font-kerning:none">2</text></g>
<g transform="translate(471.91,790.50) scale(0.8800,1)"><text x="0.00 24.95 47.26 68.29 89.32 103.78 119.54 145.80 166.83" y="0" font-family='"Liberation Sans", sans-serif' font-weight="bold" font-size="23.60" fill="#000" stroke="#000" stroke-width="0.15" style="white-space:pre;font-kerning:none">Dose (Gy)</text></g>
<g transform="translate(220.03,583.60) scale(0.8900,1)"><text x="0.00 21.42 42.85 61.89 79.76 97.63 115.51 127.42 145.29 163.16 181.04 194.13 213.17 227.47 239.39 260.81 284.61" y="0" font-family='"Liberation Sans", sans-serif' font-weight="bold" font-size="21.40" fill="#000" stroke="#000" stroke-width="0.15" style="white-space:pre;font-kerning:none">HCT116 vector CMV</text><rect x="62.52" y="-3.45" width="4.14" height="4.95" fill="#fff"/><rect x="70.05" y="-3.45" width="5.24" height="4.95" fill="#fff"/><rect x="80.39" y="-3.45" width="4.14" height="4.95" fill="#fff"/><rect x="87.92" y="-3.45" width="5.24" height="4.95" fill="#fff"/></g>
<g transform="translate(220.03,609.80) scale(0.8900,1)"><text x="0.00 21.79 43.57 62.98 81.21 99.45 117.68 129.96 151.74 165.20 186.99 208.78 229.38 241.66 262.27 280.50" y="0" font-family='"Liberation Sans", sans-serif' font-weight="bold" font-size="21.40" fill="#000" stroke="#000" stroke-width="0.15" style="white-space:pre;font-kerning:none">HCT116 H-RAS V12</text><rect x="63.60" y="-3.45" width="4.14" height="4.95" fill="#fff"/><rect x="71.13" y="-3.45" width="5.24" height="4.95" fill="#fff"/><rect x="81.84" y="-3.45" width="4.14" height="4.95" fill="#fff"/><rect x="89.37" y="-3.45" width="5.24" height="4.95" fill="#fff"/><rect x="262.89" y="-3.45" width="4.14" height="4.95" fill="#fff"/><rect x="270.42" y="-3.45" width="5.24" height="4.95" fill="#fff"/></g>
<g transform="translate(220.03,636.00) scale(0.8900,1)"><text x="0.00 21.65 43.31 62.58 80.68 98.78 116.88 129.02 150.68 164.00 185.66 207.31 227.78 239.93 260.40 278.50 296.60 308.74 329.22 347.32" y="0" font-family='"Liberation Sans", sans-serif' font-weight="bold" font-size="21.40" fill="#000" stroke="#000" stroke-width="0.15" style="white-space:pre;font-kerning:none">HCT116 H-RAS V12 S35</text><rect x="63.20" y="-3.45" width="4.14" height="4.95" fill="#fff"/><rect x="70.73" y="-3.45" width="5.24" height="4.95" fill="#fff"/><rect x="81.30" y="-3.45" width="4.14" height="4.95" fill="#fff"/><rect x="88.83" y="-3.45" width="5.24" height="4.95" fill="#fff"/><rect x="261.02" y="-3.45" width="4.14" height="4.95" fill="#fff"/><rect x="268.55" y="-3.45" width="5.24" height="4.95" fill="#fff"/></g>
<g transform="translate(220.03,662.60) scale(0.8900,1)"><text x="0.00 21.65 43.31 62.58 80.68 98.78 116.88 129.02 150.67 164.00 185.65 207.31 227.78 239.92 260.39 278.49 296.60 308.74 331.58 349.68" y="0" font-family='"Liberation Sans", sans-serif' font-weight="bold" font-size="21.40" fill="#000" stroke="#000" stroke-width="0.15" style="white-space:pre;font-kerning:none">HCT116 H-RAS V12 G37</text><rect x="63.20" y="-3.45" width="4.14" height="4.95" fill="#fff"/><rect x="70.73" y="-3.45" width="5.24" height="4.95" fill="#fff"/><rect x="81.30" y="-3.45" width="4.14" height="4.95" fill="#fff"/><rect x="88.83" y="-3.45" width="5.24" height="4.95" fill="#fff"/><rect x="261.02" y="-3.45" width="4.14" height="4.95" fill="#fff"/><rect x="268.55" y="-3.45" width="5.24" height="4.95" fill="#fff"/></g>
<g transform="translate(220.03,689.20) scale(0.8900,1)"><text x="0.00 21.67 43.33 62.61 80.73 98.84 116.95 129.11 150.77 164.11 185.77 207.44 227.92 240.08 260.56 278.68 296.79 308.94 330.61 348.72" y="0" font-family='"Liberation Sans", sans-serif' font-weight="bold" font-size="21.40" fill="#000" stroke="#000" stroke-width="0.15" style="white-space:pre;font-kerning:none">HCT116 H-RAS V12 C40</text><rect x="63.24" y="-3.45" width="4.14" height="4.95" fill="#fff"/><rect x="70.77" y="-3.45" width="5.24" height="4.95" fill="#fff"/><rect x="81.35" y="-3.45" width="4.14" height="4.95" fill="#fff"/><rect x="88.88" y="-3.45" width="5.24" height="4.95" fill="#fff"/><rect x="261.19" y="-3.45" width="4.14" height="4.95" fill="#fff"/><rect x="268.72" y="-3.45" width="5.24" height="4.95" fill="#fff"/></g>
</svg></body></html>
